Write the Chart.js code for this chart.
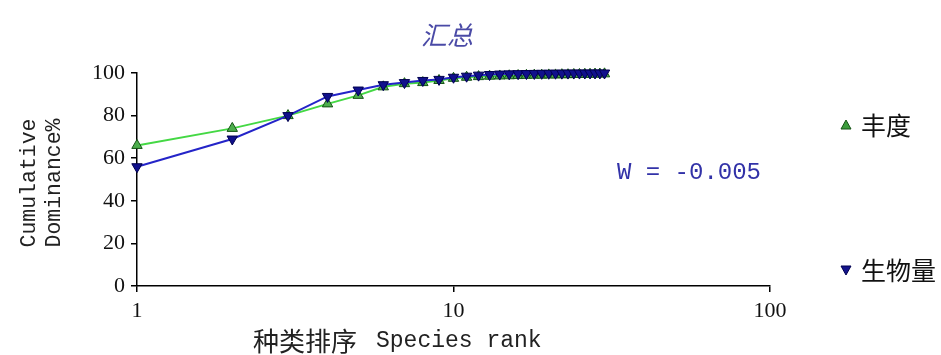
<!DOCTYPE html>
<html>
<head>
<meta charset="utf-8">
<script src="https://cdn.jsdelivr.net/npm/chart.js@4/dist/chart.umd.min.js"></script>
<style>
html,body{margin:0;padding:0;background:#fff;}
#wrap{width:941px;height:355px;position:relative;}
</style>
</head>
<body>
<div id="wrap"><canvas id="c"></canvas></div>
<script>
// ── data ──
const ranks=[1,2,3,4,5,6,7,8,9,10,11,12,13,14,15,16,17,18,19,20,21,22,23,24,25,26,27,28,29,30];
const abundance=[66,74,80,85.5,89.5,93.5,95,95.5,96.5,97.5,98,98.3,98.5,98.6,98.7,98.8,98.9,99,99,99.1,99.1,99.2,99.2,99.3,99.3,99.4,99.4,99.5,99.5,99.6];
const biomass=[56,69,80,89,92,94.5,95.5,96.5,97,98,98.5,99,99.3,99.5,99.6,99.7,99.75,99.8,99.85,99.88,99.9,99.93,99.95,99.96,99.97,99.98,99.99,99.995,100,100];
const xTicks=[1,10,100];
const yTicks=[0,20,40,60,80,100];
const seriesNames=['丰度','生物量'];
const chartTitle='汇总';
const wText='W = -0.005';

const pts=arr=>ranks.map((r,i)=>({x:r,y:arr[i]}));

// extra texts + custom legend
const decor={
  id:'decor',
  afterDraw(chart){
    const ctx=chart.ctx;
    ctx.save();
    // title
    ctx.fillStyle='#4a4aa6';
    ctx.font='italic 26px "Noto Sans CJK SC"';
    ctx.textAlign='center';ctx.textBaseline='middle';
    ctx.fillText(chartTitle,447,35);
    // y title
    ctx.fillStyle='#222';
    ctx.font='21.5px "Liberation Mono"';
    ctx.save();
    ctx.translate(29,183);ctx.rotate(-Math.PI/2);
    ctx.fillText('Cumulative',0,0);
    ctx.restore();
    ctx.save();
    ctx.translate(54,183);ctx.rotate(-Math.PI/2);
    ctx.fillText('Dominance%',0,0);
    ctx.restore();
    // x title
    ctx.textAlign='left';
    ctx.font='26px "Noto Sans CJK SC"';
    ctx.fillText('种类排序',253,341);
    ctx.font='23px "Liberation Mono"';
    ctx.fillText('Species rank',376,341);
    // W
    ctx.fillStyle='#3232a8';
    ctx.font='24px "Liberation Mono"';
    ctx.fillText(wText,617,173);
    // legend
    const leg=[{y:125,fill:'#3c9c3c',stroke:'#145214',up:true,name:seriesNames[0]},
               {y:270,fill:'#14148c',stroke:'#000050',up:false,name:seriesNames[1]}];
    leg.forEach(l=>{
      ctx.beginPath();
      if(l.up){ctx.moveTo(846,l.y-5);ctx.lineTo(851,l.y+4);ctx.lineTo(841,l.y+4);}
      else{ctx.moveTo(846,l.y+5);ctx.lineTo(851,l.y-4);ctx.lineTo(841,l.y-4);}
      ctx.closePath();
      ctx.fillStyle=l.fill;ctx.fill();
      ctx.strokeStyle=l.stroke;ctx.lineWidth=1;ctx.stroke();
      ctx.fillStyle='#111';
      ctx.font='25px "Noto Sans CJK SC"';
      ctx.textAlign='left';
      ctx.fillText(l.name,861,l.y);
    });
    ctx.restore();
  }
};

new Chart(document.getElementById('c'),{
  type:'line',
  data:{datasets:[
    {label:seriesNames[0],data:pts(abundance),borderColor:'#44d844',borderWidth:2,clip:false,order:2,
     pointStyle:'triangle',pointRadius:6,pointBackgroundColor:'#4cae4c',pointBorderColor:'#145214',pointBorderWidth:1,tension:0,fill:false},
    {label:seriesNames[1],data:pts(biomass),borderColor:'#2424c8',borderWidth:2,clip:false,order:1,
     pointStyle:'triangle',rotation:180,pointRadius:6,pointBackgroundColor:'#10108c',pointBorderColor:'#000050',pointBorderWidth:1,tension:0,fill:false}
  ]},
  options:{
    responsive:true,maintainAspectRatio:false,animation:false,devicePixelRatio:1,
    layout:{padding:{left:0,top:73,right:171,bottom:0}},
    plugins:{legend:{display:false},title:{display:false},tooltip:{enabled:false}},
    scales:{
      x:{type:'logarithmic',min:1,max:100,
        afterBuildTicks:s=>{s.ticks=xTicks.map(v=>({value:v}));},
        afterFit:s=>{s.height=69;},
        ticks:{callback:v=>String(v),color:'#111',font:{family:'Liberation Serif',size:22},padding:6,maxRotation:0,autoSkip:false},
        grid:{drawOnChartArea:false,tickLength:6,color:'#000',lineWidth:1.5},
        border:{color:'#000',width:1.5}},
      y:{min:0,max:100,
        afterBuildTicks:s=>{s.ticks=yTicks.map(v=>({value:v}));},
        afterFit:s=>{s.width=137;},
        ticks:{color:'#111',font:{family:'Liberation Serif',size:22},padding:6},
        grid:{drawOnChartArea:false,tickLength:6,color:'#000',lineWidth:1.5},
        border:{color:'#000',width:1.5}}
    }
  },
  plugins:[decor]
});
</script>
</body>
</html>
